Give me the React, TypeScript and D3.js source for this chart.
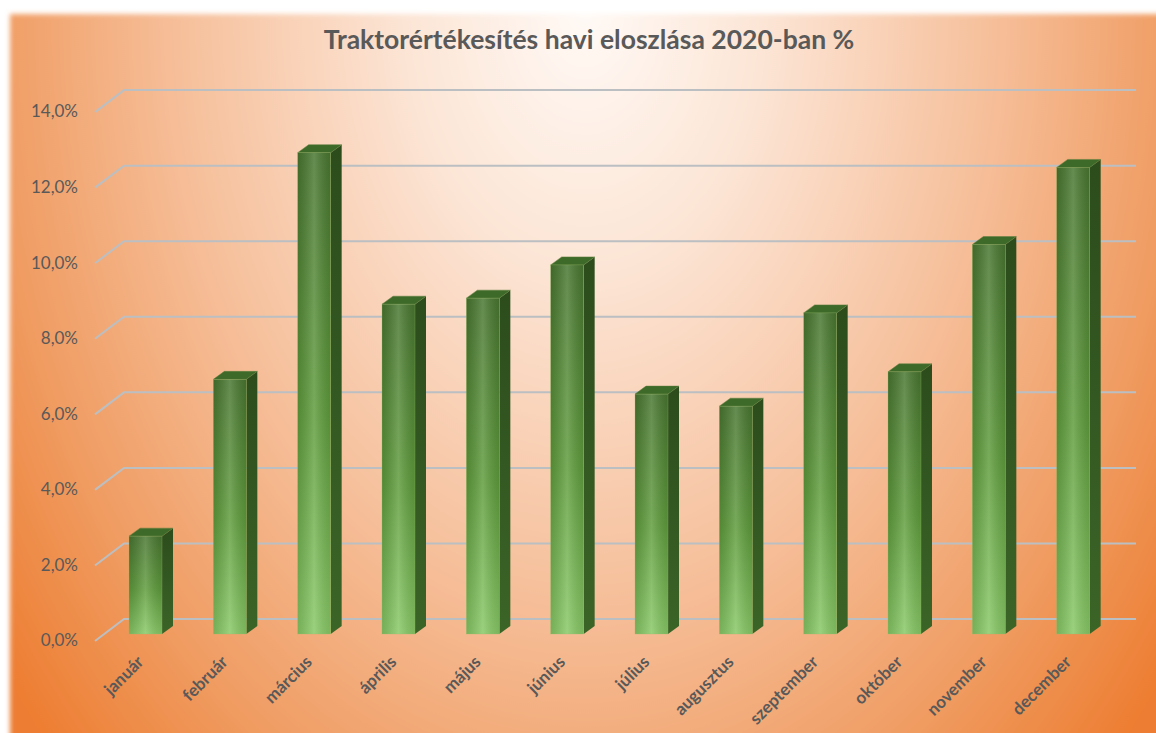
import React, { useEffect, useRef } from 'react';
import * as d3 from 'd3';

const months = [
  'január', 'február', 'március', 'április', 'május', 'június',
  'július', 'augusztus', 'szeptember', 'október', 'november', 'december',
];
const shares = [2.59, 6.74, 12.74, 8.73, 8.89, 9.77, 6.35, 6.03, 8.5, 6.94, 10.31, 12.35];
const yTicks = [0, 2, 4, 6, 8, 10, 12, 14];
const title = 'Traktorértékesítés havi eloszlása 2020-ban %';

const W = 1156;
const H = 733;

const App: React.FC = () => {
  const svgRef = useRef<SVGSVGElement>(null);

  useEffect(() => {
    if (!svgRef.current) return;
    const svg = d3.select(svgRef.current);
    svg.selectAll('*').remove();

    // depth of the 3D effect
    const wallDx = 29, wallDy = 22;   // front axis -> back wall
    const barDx = 11, barDy = 8;      // bar depth
    const barLift = 15;               // bar front sits lower than back wall

    const x = d3.scaleBand<string>().domain(months).range([124, 1136]);
    const y = d3.scaleLinear().domain([0, 14]).range([619, 90.1]);
    const barW = 33;
    const barOff = 5;

    const defs = svg.append('defs');

    // background radial gradient (light at top centre)
    const bg = defs.append('radialGradient')
      .attr('id', 'bg-grad')
      .attr('gradientUnits', 'userSpaceOnUse')
      .attr('cx', 585).attr('cy', 10).attr('r', 740)
      .attr('gradientTransform', 'translate(585 10) scale(1 1.45) translate(-585 -10)');
    bg.append('stop').attr('offset', '0%').attr('stop-color', '#fffaf6');
    bg.append('stop').attr('offset', '25%').attr('stop-color', '#fce4d4');
    bg.append('stop').attr('offset', '55%').attr('stop-color', '#f6bf9a');
    bg.append('stop').attr('offset', '80%').attr('stop-color', '#f09c62');
    bg.append('stop').attr('offset', '100%').attr('stop-color', '#ed7d31');

    const soft = defs.append('filter').attr('id', 'soft-edge')
      .attr('x', '-5%').attr('y', '-5%').attr('width', '110%').attr('height', '110%');
    soft.append('feGaussianBlur').attr('stdDeviation', 2.5);

    // bar front: vertical dark -> light
    const front = defs.append('linearGradient').attr('id', 'bar-front')
      .attr('x1', 0).attr('y1', 0).attr('x2', 0).attr('y2', 1);
    front.append('stop').attr('offset', '0%').attr('stop-color', '#487630');
    front.append('stop').attr('offset', '55%').attr('stop-color', '#5f9c3c');
    front.append('stop').attr('offset', '100%').attr('stop-color', '#88c966');

    // horizontal sheen over the front
    const sheen = defs.append('linearGradient').attr('id', 'bar-sheen')
      .attr('x1', 0).attr('y1', 0).attr('x2', 1).attr('y2', 0);
    sheen.append('stop').attr('offset', '0%').attr('stop-color', '#000').attr('stop-opacity', 0.12);
    sheen.append('stop').attr('offset', '50%').attr('stop-color', '#fff').attr('stop-opacity', 0.16);
    sheen.append('stop').attr('offset', '100%').attr('stop-color', '#000').attr('stop-opacity', 0.1);

    const side = defs.append('linearGradient').attr('id', 'bar-side')
      .attr('x1', 0).attr('y1', 0).attr('x2', 0).attr('y2', 1);
    side.append('stop').attr('offset', '0%').attr('stop-color', '#2c4c1c');
    side.append('stop').attr('offset', '100%').attr('stop-color', '#3b6427');

    // chart area background
    svg.append('rect')
      .attr('x', 10).attr('y', 14)
      .attr('width', W + 40).attr('height', H + 40)
      .attr('fill', 'url(#bg-grad)')
      .attr('filter', 'url(#soft-edge)');

    // title
    svg.append('text')
      .attr('x', 589).attr('y', 42)
      .attr('text-anchor', 'middle')
      .attr('dominant-baseline', 'middle')
      .attr('font-family', 'Lato, "Open Sans", sans-serif')
      .attr('font-weight', 'bold')
      .attr('font-size', 26.5)
      .attr('fill', '#595959')
      .text(title);

    // gridlines with 3D side wall diagonal
    const grid = svg.append('g').attr('stroke', '#bcbfc2').attr('stroke-width', 2).attr('fill', 'none');
    yTicks.forEach(t => {
      const yy = y(t);
      grid.append('path')
        .attr('d', `M${124 - wallDx},${yy + wallDy}L124,${yy}L1136,${yy}`);
    });

    // y labels
    svg.append('g')
      .selectAll('text')
      .data(yTicks)
      .enter()
      .append('text')
      .attr('x', 78)
      .attr('y', d => y(d) + wallDy + 1)
      .attr('text-anchor', 'end')
      .attr('dominant-baseline', 'middle')
      .attr('font-family', 'Lato, "Open Sans", sans-serif')
      .attr('font-size', 17)
      .attr('fill', '#595959')
      .text(d => d.toFixed(1).replace('.', ',') + '%');

    // bars
    const data = months.map((m, i) => ({ m, v: shares[i] }));
    const bars = svg.append('g')
      .selectAll('g.bar')
      .data(data)
      .enter()
      .append('g')
      .attr('class', 'bar');

    const bx = (d: { m: string }) => (x(d.m) as number) + barOff;
    const top = (d: { v: number }) => y(d.v) + barLift;
    const bottom = y(0) + barLift;

    // side face
    bars.append('path')
      .attr('d', d => {
        const x0 = bx(d) + barW, t = top(d);
        return `M${x0},${t}L${x0 + barDx},${t - barDy}L${x0 + barDx},${bottom - barDy}L${x0},${bottom}Z`;
      })
      .attr('fill', 'url(#bar-side)');

    // top face
    bars.append('path')
      .attr('d', d => {
        const x0 = bx(d), t = top(d);
        return `M${x0},${t}L${x0 + barDx},${t - barDy}L${x0 + barW + barDx},${t - barDy}L${x0 + barW},${t}Z`;
      })
      .attr('fill', '#3e6a29')
      .attr('stroke', '#5c7f3e')
      .attr('stroke-width', 0.5);

    // front face
    bars.append('rect')
      .attr('x', bx)
      .attr('y', top)
      .attr('width', barW)
      .attr('height', d => bottom - top(d))
      .attr('fill', 'url(#bar-front)');

    bars.append('rect')
      .attr('x', bx)
      .attr('y', top)
      .attr('width', barW)
      .attr('height', d => bottom - top(d))
      .attr('fill', 'url(#bar-sheen)')
      .attr('stroke', '#9bbf6e')
      .attr('stroke-opacity', 0.5)
      .attr('stroke-width', 0.6);

    // x labels, rotated
    svg.append('g')
      .selectAll('text')
      .data(months)
      .enter()
      .append('text')
      .attr('transform', d => {
        const cx = (x(d) as number) + barOff + barW / 2 - 1;
        return `translate(${cx},${bottom + 29}) rotate(-45)`;
      })
      .attr('text-anchor', 'end')
      .attr('font-family', 'Lato, "Open Sans", sans-serif')
      .attr('font-weight', 'bold')
      .attr('font-size', 17)
      .attr('fill', '#595959')
      .text(d => d);
  }, []);

  return (
    <div style={{ position: 'absolute', left: 0, top: 0, width: W, height: H, background: '#fff' }}>
      <svg ref={svgRef} width={W} height={H} style={{ display: 'block' }} />
    </div>
  );
};

export default App;
